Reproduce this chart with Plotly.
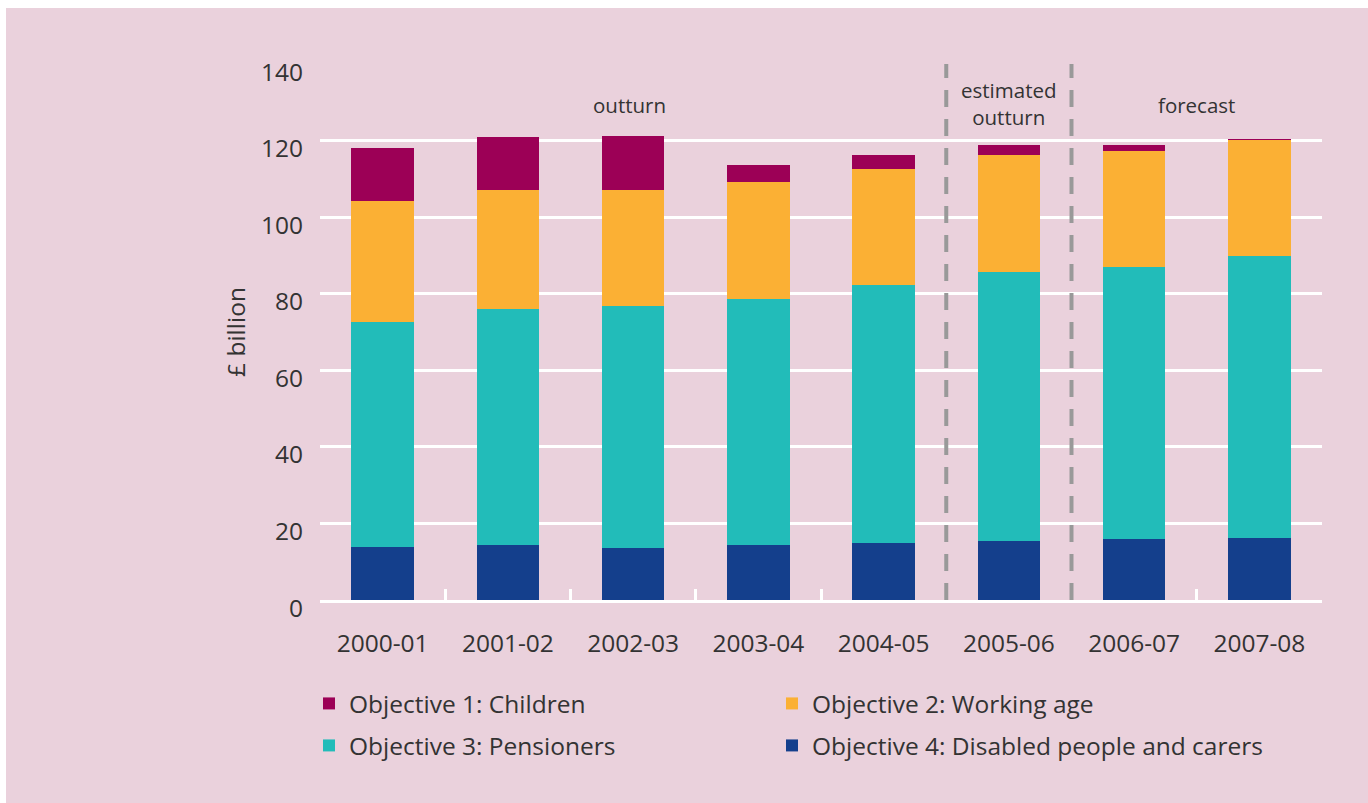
import plotly.graph_objects as go

years = ["2000-01", "2001-02", "2002-03", "2003-04", "2004-05", "2005-06", "2006-07", "2007-08"]
disabled = [13.8, 14.4, 13.6, 14.4, 14.9, 15.5, 15.9, 16.3]
pensioners = [58.9, 61.6, 63.2, 64.2, 67.3, 70.1, 71.0, 73.6]
working_age = [31.5, 31.1, 30.2, 30.7, 30.5, 30.6, 30.5, 30.4]
children = [13.8, 13.9, 14.1, 4.2, 3.5, 2.6, 1.4, 0.1]
y_ticks = [0, 20, 40, 60, 80, 100, 120, 140]

PINK = "#EAD1DC"
TEXT = "#333333"
FONT = "Open Sans"
FS = 24.5

W, H = 1368, 803
L, R, T, B = 320, 46, 64, 203
pw, ph = W - L - R, H - T - B

def px_x(p):
    return (p - L) / pw

def px_y(p):
    return (H - B - p) / ph

fig = go.Figure()
series = [
    ("Objective 4: Disabled people and carers", disabled, "#143F8C", "legend4"),
    ("Objective 3: Pensioners", pensioners, "#22BCB9", "legend3"),
    ("Objective 2: Working age", working_age, "#FBB034", "legend2"),
    ("Objective 1: Children", children, "#9C0056", "legend"),
]
for name, vals, col, leg in series:
    fig.add_trace(go.Bar(x=years, y=vals, name=name, marker_color=col,
                         marker_line_width=0, legend=leg, showlegend=True))

shapes = [
    dict(type="rect", xref="paper", yref="paper", x0=px_x(6), x1=px_x(W + 5),
         y0=px_y(8), y1=px_y(H + 5), fillcolor=PINK, line_width=0, layer="below"),
]
for xv in [4.5, 5.5]:
    shapes.append(dict(type="line", xref="x", yref="y", x0=xv, x1=xv, y0=0, y1=140,
                       line=dict(color="#999999", width=4, dash="17px,12px")))

annotations = [
    dict(text="outturn", x=1.97, y=129.3),
    dict(text="estimated<br>outturn", x=5, y=129.6),
    dict(text="forecast", x=6.5, y=129.3),
]
for a in annotations:
    a.update(xref="x", yref="y", showarrow=False,
             font=dict(family=FONT, size=20.5, color=TEXT))

def leg(xp, yp):
    return dict(orientation="h", x=px_x(xp), y=px_y(yp), xanchor="left", yanchor="top",
                bgcolor="rgba(0,0,0,0)", font=dict(family=FONT, size=FS, color=TEXT),
                itemclick=False, visible=True)

fig.update_layout(
    width=W, height=H,
    margin=dict(l=L, r=R, t=T, b=B, pad=0),
    paper_bgcolor="white",
    plot_bgcolor="rgba(0,0,0,0)",
    barmode="stack",
    bargap=0.5,
    showlegend=True,
    font=dict(family=FONT, size=FS, color=TEXT),
    shapes=shapes,
    annotations=annotations,
    xaxis=dict(
        type="category", showgrid=False, showline=True, linecolor="white", linewidth=3,
        ticks="inside", tickson="boundaries", ticklen=11, tickwidth=3, tickcolor="white",
        tickfont=dict(family=FONT, size=FS, color=TEXT), ticklabelstandoff=20,
        range=[-0.5, 7.5],
    ),
    yaxis=dict(
        range=[0, 140], tickvals=y_ticks, showgrid=True, gridcolor="white", gridwidth=3,
        zeroline=False, showline=False, ticks="",
        tickfont=dict(family=FONT, size=FS, color=TEXT), ticklabelstandoff=16,
        ticklabelshift=8,
        title=dict(text="£ billion", font=dict(family=FONT, size=FS, color=TEXT), standoff=8),
    ),
    legend=leg(309, 681),
    legend2=leg(772, 681),
    legend3=leg(309, 723),
    legend4=leg(772, 723),
)

fig.write_html("out.html")
